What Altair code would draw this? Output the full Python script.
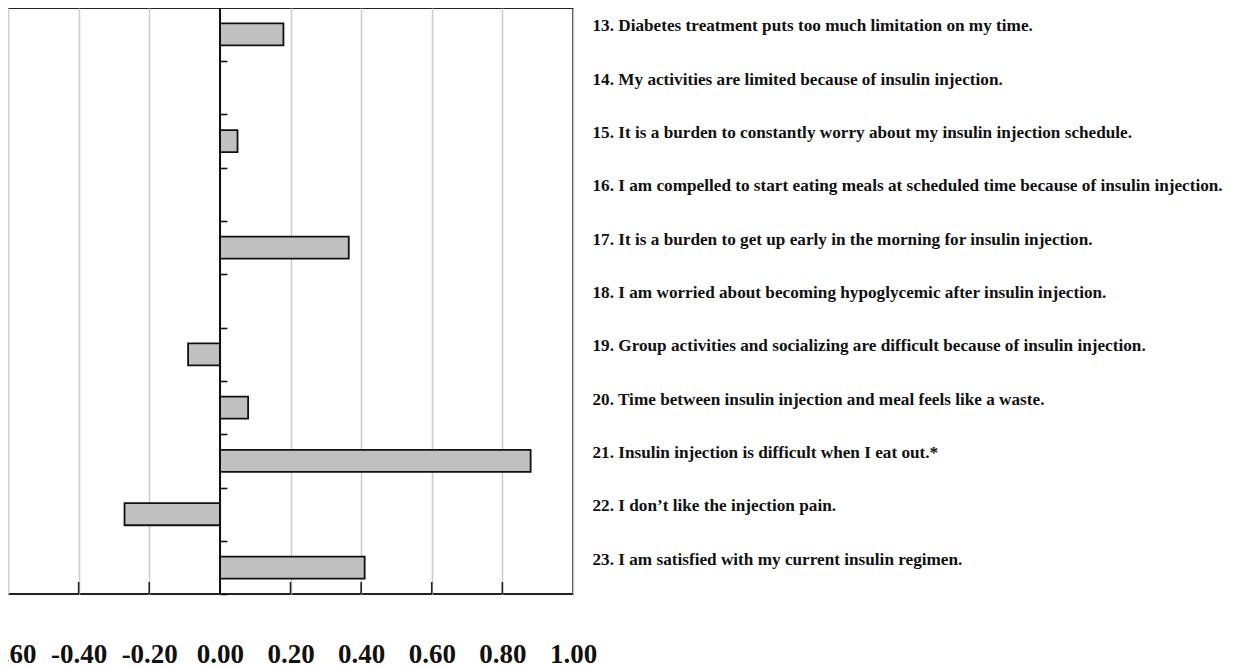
import altair as alt
import pandas as pd

items = [
    "13. Diabetes treatment puts too much limitation on my time.",
    "14. My activities are limited because of insulin injection.",
    "15. It is a burden to constantly worry about my insulin injection schedule.",
    "16. I am compelled to start eating meals at scheduled time because of insulin injection.",
    "17. It is a burden to get up early in the morning for insulin injection.",
    "18. I am worried about becoming hypoglycemic after insulin injection.",
    "19. Group activities and socializing are difficult because of insulin injection.",
    "20. Time between insulin injection and meal feels like a waste.",
    "21. Insulin injection is difficult when I eat out.*",
    "22. I don\u2019t like the injection pain.",
    "23. I am satisfied with my current insulin regimen.",
]
values = [0.18, None, 0.05, None, 0.365, None, -0.09, 0.08, 0.88, -0.27, 0.41]
x_ticks = [-0.6, -0.4, -0.2, 0.0, 0.2, 0.4, 0.6, 0.8, 1.0]
inner_ticks = [-0.4, -0.2, 0.2, 0.4, 0.6, 0.8]

df = pd.DataFrame({"item": items, "value": values})
df_ticks = pd.DataFrame({"t": inner_ticks})

W, H = 565, 586
FONT = "Liberation Serif"
P_IN, P_OUT = 0.587, 0.29
STEP = H / (len(items) - P_IN + 2 * P_OUT)

yscale = alt.Scale(domain=items, paddingInner=P_IN, paddingOuter=P_OUT)
xscale = alt.Scale(domain=[-0.6, 1.0], nice=False, zero=False)
xaxis = alt.Axis(
    values=x_ticks,
    labelExpr="(datum.value < 0 ? '-' : '') + format(abs(datum.value), '.2f')",
    grid=True, gridColor="#cccccc",
    gridWidth=1.5, ticks=False, tickSize=0, domain=False, title=None,
    labelFont=FONT, labelFontWeight="bold", labelFontSize=27,
    labelColor="#111111", labelPadding=47, labelFlush=False,
    labelOverlap=False,
)

bars = alt.Chart(df).mark_bar(
    color="#c0c0c0", stroke="#111111", strokeWidth=1.8
).encode(
    x=alt.X("value:Q", scale=xscale, axis=xaxis),
    y=alt.Y(
        "item:N",
        scale=yscale,
        sort=items,
        axis=alt.Axis(
            orient="right", title=None, ticks=False, domain=False, grid=False,
            labelFont=FONT, labelFontWeight="bold", labelFontSize=17.2,
            labelColor="#111111", labelPadding=19, labelLimit=0,
            labelAlign="left", labelOffset=-8,
        ),
    ),
)

zero_line = alt.Chart(df).mark_rule(color="#111111", strokeWidth=1.6).encode(
    x=alt.XDatum(0, type="quantitative", axis=xaxis, scale=xscale),
)

tick_axis = alt.Chart(df).mark_point(opacity=0).encode(
    x=alt.XDatum(0, type="quantitative", axis=xaxis, scale=xscale),
    y=alt.Y(
        "item:N",
        scale=yscale,
        sort=items,
        axis=alt.Axis(
            orient="right", offset=-(W * 1.0 / 1.6), title=None, labels=False,
            domain=False, grid=False, ticks=True, tickSize=7, tickWidth=1.6,
            tickColor="#111111", tickOffset=STEP / 2,
        ),
    ),
)

bottom_ticks = alt.Chart(df_ticks).mark_rule(color="#222222", strokeWidth=1.6).encode(
    x=alt.X("t:Q", scale=xscale, axis=xaxis),
    y=alt.value(H - 12),
    y2=alt.value(H),
)

chart = alt.layer(bars, zero_line, tick_axis, bottom_ticks).resolve_axis(
    y="independent"
).properties(
    width=W,
    height=H,
    autosize=alt.AutoSizeParams(type="none"),
    padding={"left": 0, "top": 0, "right": 654, "bottom": 74},
    background="white",
).configure_view(
    stroke="#222222", strokeWidth=1.8
)

chart.save("out.html", embed_options={"renderer": "svg", "actions": False})
